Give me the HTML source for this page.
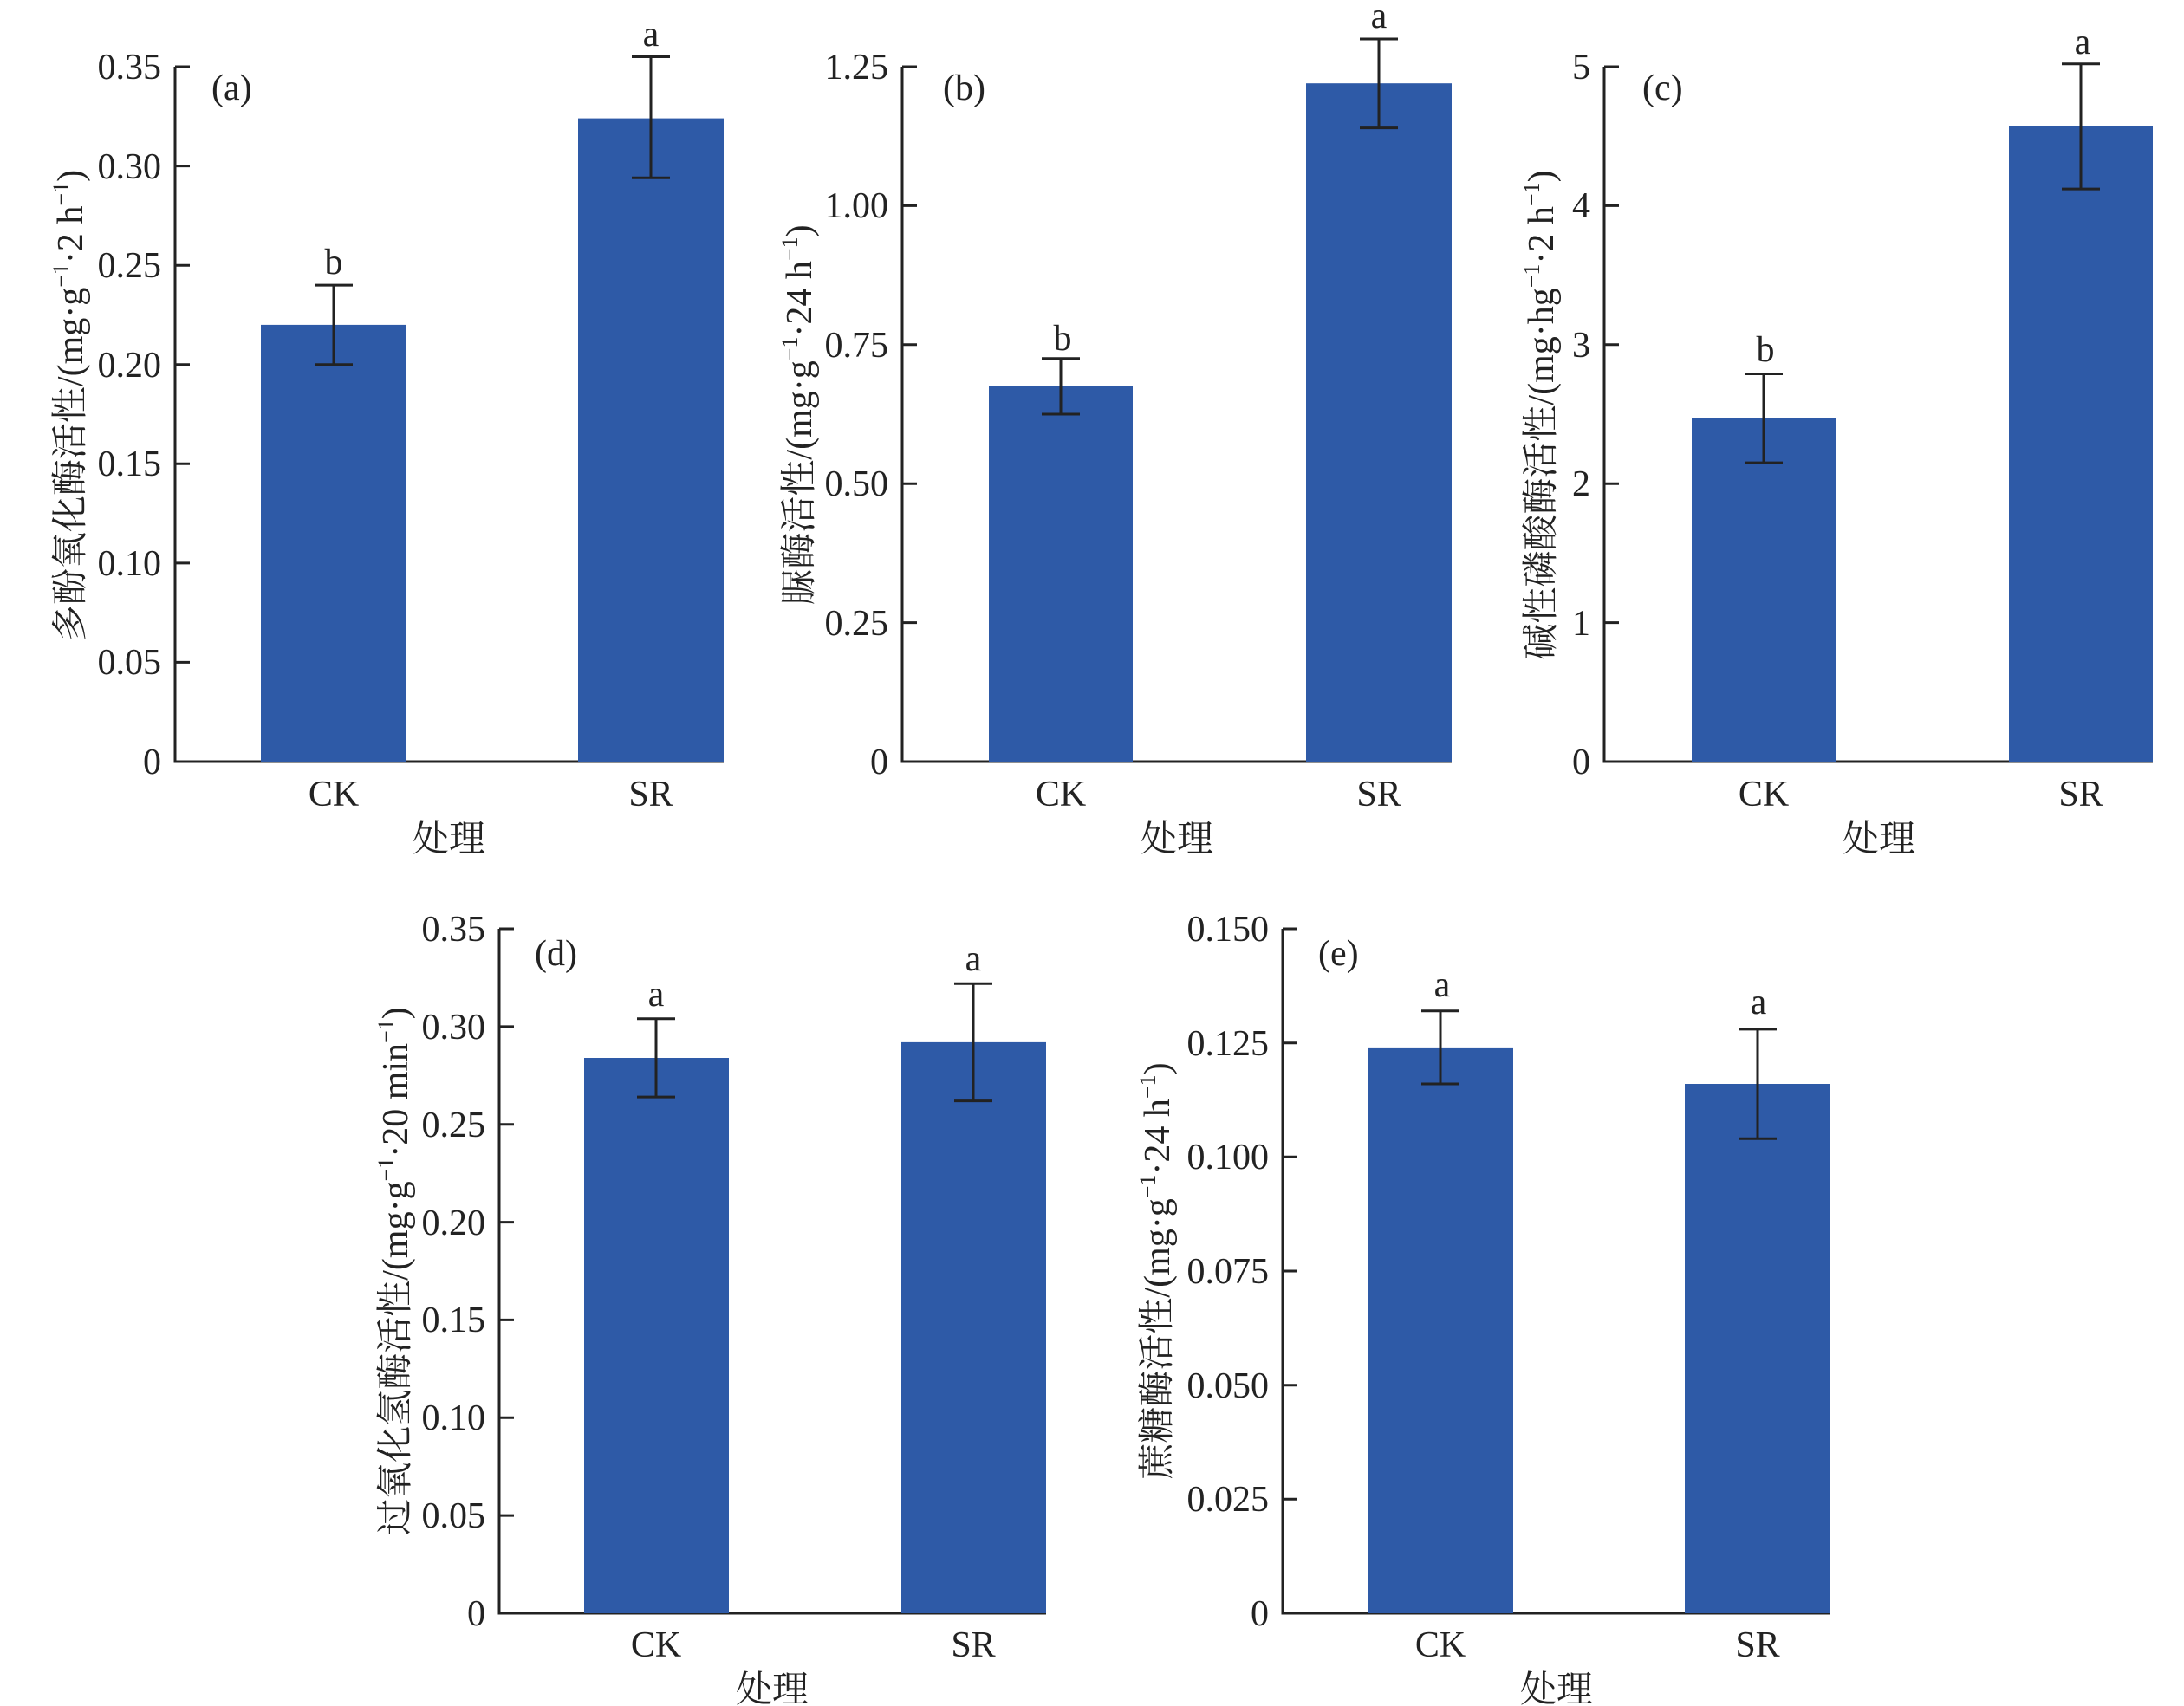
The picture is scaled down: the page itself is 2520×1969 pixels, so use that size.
<!DOCTYPE html>
<html><head><meta charset="utf-8"><style>html,body{margin:0;padding:0;background:#fff}svg{display:block}</style></head>
<body>
<svg width="2520" height="1969" viewBox="0 0 2520 1969" xmlns="http://www.w3.org/2000/svg" font-family="'Liberation Serif','Noto Serif CJK SC',serif" font-size="42" fill="#222">
<g stroke="#222" stroke-width="3" fill="none">
<path d="M202,77 V879 H835"/>
<path d="M202,764.4h17M202,649.9h17M202,535.3h17M202,420.7h17M202,306.2h17M202,191.6h17M202,77h17"/>
<path d="M385,879v-14M751,879v-14"/>
<path d="M1041,77 V879 H1675"/>
<path d="M1041,718.6h17M1041,558.2h17M1041,397.8h17M1041,237.4h17M1041,77h17"/>
<path d="M1224,879v-14M1591,879v-14"/>
<path d="M1851,77 V879 H2484"/>
<path d="M1851,718.6h17M1851,558.2h17M1851,397.8h17M1851,237.4h17M1851,77h17"/>
<path d="M2035,879v-14M2401,879v-14"/>
<path d="M576,1072 V1862 H1207"/>
<path d="M576,1749.1h17M576,1636.3h17M576,1523.4h17M576,1410.6h17M576,1297.7h17M576,1184.9h17M576,1072h17"/>
<path d="M757,1862v-14M1123,1862v-14"/>
<path d="M1480,1072 V1862 H2112"/>
<path d="M1480,1730.3h17M1480,1598.7h17M1480,1467h17M1480,1335.3h17M1480,1203.7h17M1480,1072h17"/>
<path d="M1662,1862v-14M2028,1862v-14"/>
</g>
<g fill="#2E5AA7">
<rect x="301" y="374.9" width="168" height="504.1"/>
<rect x="667" y="136.6" width="168" height="742.4"/>
<rect x="1141" y="445.9" width="166" height="433.1"/>
<rect x="1507" y="96.2" width="168" height="782.8"/>
<rect x="1952" y="482.8" width="166" height="396.2"/>
<rect x="2318" y="146" width="166" height="733"/>
<rect x="674" y="1221" width="167" height="641"/>
<rect x="1040" y="1202.9" width="167" height="659.1"/>
<rect x="1578" y="1208.9" width="168" height="653.1"/>
<rect x="1944" y="1251" width="168" height="611"/>
</g>
<g stroke="#222" stroke-width="3" fill="none">
<path d="M385,420.7V329.1M363,420.7h44M363,329.1h44"/>
<path d="M751,205.3V65.5M729,205.3h44M729,65.5h44"/>
<path d="M1224,478V413.8M1202,478h44M1202,413.8h44"/>
<path d="M1591,147.6V45M1569,147.6h44M1569,45h44"/>
<path d="M2035,534.1V431.5M2013,534.1h44M2013,431.5h44"/>
<path d="M2401,218.1V73.8M2379,218.1h44M2379,73.8h44"/>
<path d="M757,1266.1V1175.8M735,1266.1h44M735,1175.8h44"/>
<path d="M1123,1270.6V1135.2M1101,1270.6h44M1101,1135.2h44"/>
<path d="M1662,1251V1166.8M1640,1251h44M1640,1166.8h44"/>
<path d="M2028,1314.3V1187.9M2006,1314.3h44M2006,1187.9h44"/>
</g>
<g text-anchor="end">
<text x="186" y="893">0</text><text x="186" y="778">0.05</text><text x="186" y="664">0.10</text><text x="186" y="549">0.15</text><text x="186" y="435">0.20</text><text x="186" y="320">0.25</text><text x="186" y="206">0.30</text><text x="186" y="91">0.35</text>
<text x="1025" y="893">0</text><text x="1025" y="733">0.25</text><text x="1025" y="572">0.50</text><text x="1025" y="412">0.75</text><text x="1025" y="251">1.00</text><text x="1025" y="91">1.25</text>
<text x="1835" y="893">0</text><text x="1835" y="733">1</text><text x="1835" y="572">2</text><text x="1835" y="412">3</text><text x="1835" y="251">4</text><text x="1835" y="91">5</text>
<text x="560" y="1876">0</text><text x="560" y="1763">0.05</text><text x="560" y="1650">0.10</text><text x="560" y="1537">0.15</text><text x="560" y="1425">0.20</text><text x="560" y="1312">0.25</text><text x="560" y="1199">0.30</text><text x="560" y="1086">0.35</text>
<text x="1464" y="1876">0</text><text x="1464" y="1744">0.025</text><text x="1464" y="1613">0.050</text><text x="1464" y="1481">0.075</text><text x="1464" y="1349">0.100</text><text x="1464" y="1218">0.125</text><text x="1464" y="1086">0.150</text>
</g>
<g text-anchor="middle">
<text x="385" y="930">CK</text><text x="751" y="930">SR</text><text x="518" y="982">处理</text>
<text x="1224" y="930">CK</text><text x="1591" y="930">SR</text><text x="1358" y="982">处理</text>
<text x="2035" y="930">CK</text><text x="2401" y="930">SR</text><text x="2168" y="982">处理</text>
<text x="757" y="1912">CK</text><text x="1123" y="1912">SR</text><text x="891" y="1964">处理</text>
<text x="1662" y="1912">CK</text><text x="2028" y="1912">SR</text><text x="1796" y="1964">处理</text>
<text x="385" y="316">b</text><text x="751" y="53">a</text>
<text x="1226" y="404">b</text><text x="1591" y="32">a</text>
<text x="2037" y="417">b</text><text x="2403" y="62">a</text>
<text x="757" y="1161">a</text><text x="1123" y="1120">a</text>
<text x="1664" y="1150">a</text><text x="2029" y="1170">a</text>
</g>
<text x="244" y="115">(a)</text>
<text x="1088" y="115">(b)</text>
<text x="1895" y="115">(c)</text>
<text x="617" y="1114">(d)</text>
<text x="1521" y="1114">(e)</text>
<g text-anchor="middle">
<text transform="translate(95,468) rotate(-90)">多酚氧化酶活性/(mg·g<tspan font-size="26" dy="-16">−1</tspan><tspan dy="16">·2 h</tspan><tspan font-size="26" dy="-16">−1</tspan><tspan dy="16">)</tspan></text>
<text transform="translate(936,479) rotate(-90)">脲酶活性/(mg·g<tspan font-size="26" dy="-16">−1</tspan><tspan dy="16">·24 h</tspan><tspan font-size="26" dy="-16">−1</tspan><tspan dy="16">)</tspan></text>
<text transform="translate(1792,479) rotate(-90)">碱性磷酸酶活性/(mg·hg<tspan font-size="26" dy="-16">−1</tspan><tspan dy="16">·2 h</tspan><tspan font-size="26" dy="-16">−1</tspan><tspan dy="16">)</tspan></text>
<text transform="translate(470,1467) rotate(-90)">过氧化氢酶活性/(mg·g<tspan font-size="26" dy="-16">−1</tspan><tspan dy="16">·20 min</tspan><tspan font-size="26" dy="-16">−1</tspan><tspan dy="16">)</tspan></text>
<text transform="translate(1349,1467) rotate(-90)">蔗糖酶活性/(mg·g<tspan font-size="26" dy="-16">−1</tspan><tspan dy="16">·24 h</tspan><tspan font-size="26" dy="-16">−1</tspan><tspan dy="16">)</tspan></text>
</g>
</svg>
</body></html>
